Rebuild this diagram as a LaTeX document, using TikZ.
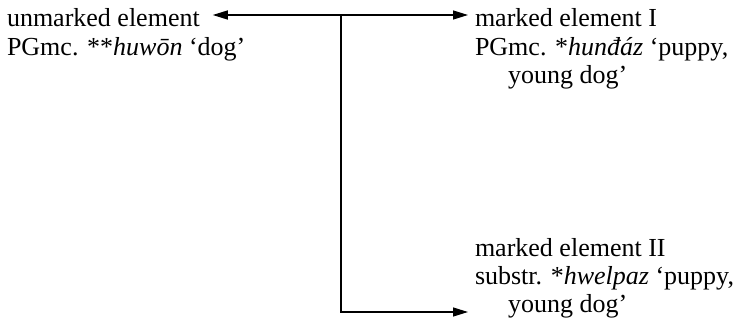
\documentclass[tikz,border=0pt]{standalone}
\usepackage{fontspec}
\setmainfont{Liberation Serif}
\usetikzlibrary{arrows.meta}
\begin{document}
\begin{tikzpicture}[x=1pt,y=-1pt,
  txt/.style={inner sep=0pt, outer sep=0pt, anchor=base west, font=\fontsize{26}{28}\selectfont},
  arr/.style={line width=1.3pt, -{Triangle[length=15pt,width=9pt]}}]
\useasboundingbox (0,0) rectangle (741,324);
\node[txt] (u1) at (7,27) {unmarked element};
\node[txt] (u2) at (7,55) {PGmc. **\textit{huwōn} ‘dog’};
\node[txt] (a1) at (475,27) {marked element I};
\node[txt] (a2) at (475,55) {PGmc. *\textit{hunđáz} ‘puppy,};
\node[txt] (a3) at (508,83) {young dog’};
\node[txt] (b1) at (475,256) {marked element II};
\node[txt] (b2) at (475,284) {substr. *\textit{hwelpaz} ‘puppy,};
\node[txt] (b3) at (508,312) {young dog’};
\coordinate (j) at (341,15);
\coordinate (c) at (341,312);
\draw[arr] (j) -- ([xshift=13pt]u1.east |- j);
\draw[arr] (j) -- ([xshift=-7pt]a1.west |- j);
\draw[arr] (j) -- (c) -- ([xshift=-7pt]b1.west |- c);
\end{tikzpicture}
\end{document}
